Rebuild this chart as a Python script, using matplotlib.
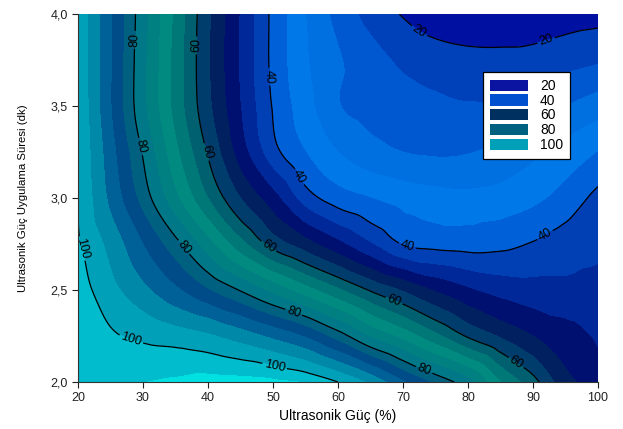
import numpy as np
import matplotlib
matplotlib.use("Agg")
import matplotlib.pyplot as plt
import matplotlib.tri as mtri
from matplotlib.patches import Patch
from matplotlib.ticker import FuncFormatter

# grid
guc = [20, 25, 30, 35, 40, 45, 50, 55, 60, 65, 70, 75, 80, 85, 90, 95, 100]
sure = [2.0, 2.25, 2.5, 2.75, 3.0, 3.25, 3.5, 3.75, 4.0]

z_200 = [103.5, 103.6, 103.9, 104.6, 105.5, 105.4, 104.8, 103.5, 100.0, 95.0, 88.5, 83.0, 77.5, 68.0, 61.5, 53.5, 49.5]
z_225 = [102.8, 100.5, 99.2, 98.0, 96.5, 94.0, 91.0, 87.5, 82.0, 75.5, 70.5, 65.0, 59.5, 55.5, 52.0, 49.5, 47.5]
z_250 = [102.0, 97.3, 93.0, 88.7, 84.2, 79.7, 74.6, 69.6, 64.6, 59.6, 55.5, 51.5, 48.5, 46.5, 45.5, 45.0, 45.3]
z_275 = [100.6, 94.6, 88.0, 81.3, 73.5, 65.4, 58.4, 53.7, 49.0, 44.3, 39.8, 38.8, 38.5, 39.0, 40.3, 42.0, 43.2]
z_300 = [100.0, 91.0, 82.3, 73.0, 64.0, 56.0, 49.5, 42.0, 38.0, 36.0, 34.5, 33.5, 33.0, 33.5, 35.0, 37.5, 41.2]
z_325 = [99.8, 89.6, 79.6, 69.0, 59.6, 50.0, 41.5, 36.0, 32.0, 29.5, 28.0, 27.5, 27.8, 29.0, 31.0, 33.5, 36.0]
z_350 = [99.5, 88.2, 77.0, 66.5, 57.0, 48.0, 39.7, 33.5, 28.3, 26.5, 25.5, 24.8, 24.3, 24.5, 26.0, 28.0, 30.0]
z_375 = [99.2, 88.3, 77.0, 66.5, 56.5, 47.5, 39.0, 32.5, 28.5, 25.5, 23.3, 22.0, 21.3, 21.2, 21.5, 22.5, 23.5]
z_400 = [99.0, 88.4, 77.5, 67.0, 56.7, 47.6, 39.0, 32.0, 26.7, 22.6, 19.7, 17.5, 16.5, 16.5, 17.0, 18.0, 18.5]

cizgi_seviye = [20, 40, 60, 80, 100]
lejant_renk = ["#0a14a0", "#0050d0", "#003060", "#006080", "#00a0b8"]

# filled bands every 4 units
dolgu_seviye = np.arange(12, 112, 4)
dolgu_renk = ["#0010a0", "#0010a0", "#0040b8", "#0058d0", "#0070e0", "#0078e8",
              "#0060d8", "#0040b4", "#002898", "#001070", "#002060", "#003c6c",
              "#006070", "#007878", "#008a80", "#008080", "#007888", "#006080",
              "#004c88", "#006098", "#0088a8", "#00a0b8", "#00bccc", "#00e0e0"]

# contour label spots
etiket_yer = [(72, 3.88), (92, 3.86),
              (49.8, 3.66), (53.8, 3.11), (70.6, 2.73), (91.5, 2.82),
              (37.7, 3.83), (39.8, 3.25), (49.2, 2.73), (68.5, 2.43), (87.7, 2.12),
              (28.5, 3.86), (29.7, 3.28), (36.2, 2.73), (52.9, 2.35), (73.4, 2.08),
              (21.1, 2.73), (28, 2.21), (50.2, 2.08)]

plt.rcParams["font.family"] = ["Liberation Sans", "DejaVu Sans"]

Z = np.array([z_200, z_225, z_250, z_275, z_300, z_325, z_350, z_375, z_400])
X, Y = np.meshgrid(guc, sure)

tri = mtri.Triangulation(X.ravel(), Y.ravel())
refiner = mtri.UniformTriRefiner(tri)
interp = mtri.CubicTriInterpolator(tri, Z.ravel(), kind="geom")
tri_ince, z_ince = refiner.refine_field(Z.ravel(), triinterpolator=interp, subdiv=4)

fig = plt.figure(figsize=(6.23, 4.29), dpi=100)
ax = fig.add_axes([78 / 623, 47 / 429, 520 / 623, 368 / 429])

ax.tricontourf(tri_ince, z_ince, levels=dolgu_seviye, colors=dolgu_renk, extend="both")
cs = ax.tricontour(tri_ince, z_ince, levels=cizgi_seviye, colors="black", linewidths=0.9)
ax.clabel(cs, fmt="%d", fontsize=9, inline=True, inline_spacing=2, manual=etiket_yer)

ax.set_xlim(20, 100)
ax.set_ylim(2.0, 4.0)
ax.set_xticks(range(20, 101, 10))
ax.set_yticks([2.0, 2.5, 3.0, 3.5, 4.0])
ax.yaxis.set_major_formatter(FuncFormatter(lambda v, p: f"{v:.1f}".replace(".", ",")))
ax.tick_params(direction="out", length=4, width=0.8, labelsize=9, colors="#222222")
ax.spines["top"].set_visible(False)
ax.spines["right"].set_visible(False)
for s in ["left", "bottom"]:
    ax.spines[s].set_color("#333333")
    ax.spines[s].set_linewidth(0.8)

ax.set_xlabel("Ultrasonik Güç (%)", fontsize=10, labelpad=3)
ax.set_ylabel("Ultrasonik Güç Uygulama Süresi (dk)", fontsize=8.2, labelpad=16)

tutamac = [Patch(facecolor=c, edgecolor="none") for c in lejant_renk]
leg = ax.legend(tutamac, [str(v) for v in cizgi_seviye], loc="upper left",
                bbox_to_anchor=(0.779, 0.842), borderaxespad=0, fontsize=10,
                frameon=True, fancybox=False, framealpha=1, edgecolor="black",
                handlelength=2.7, handleheight=0.85, labelspacing=0.05,
                borderpad=0.5, handletextpad=0.9)
leg.get_frame().set_linewidth(0.9)

fig.savefig("out.png", dpi=100)
